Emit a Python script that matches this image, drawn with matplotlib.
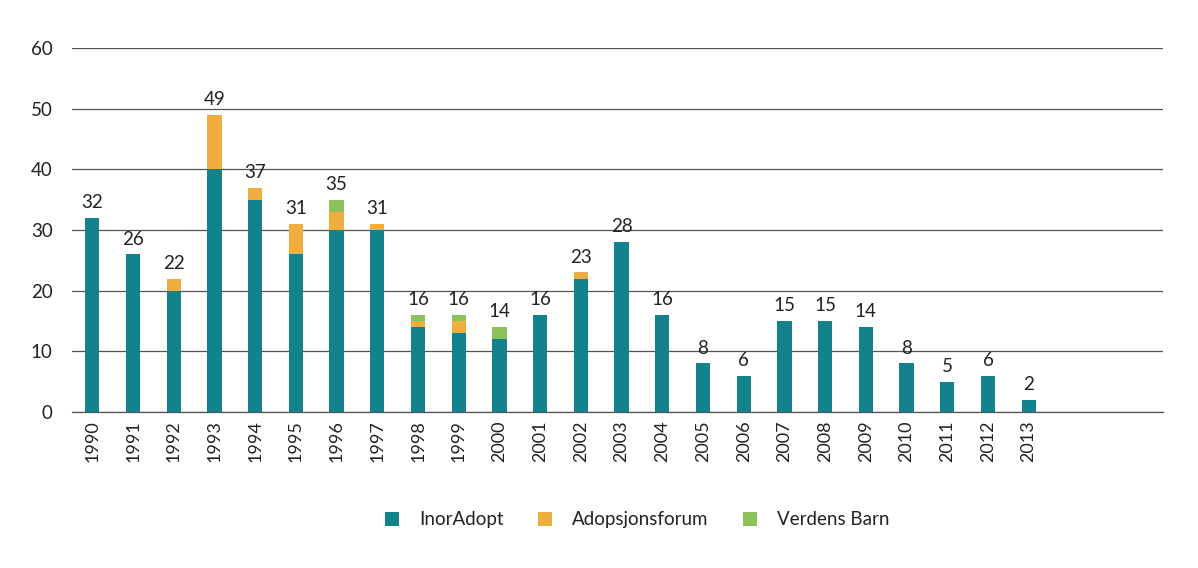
import numpy as np
import matplotlib.pyplot as plt

plt.rcParams['font.family'] = ['Lato', 'DejaVu Sans']

# Data
years = [str(y) for y in range(1990, 2014)]
inoradopt = [32, 26, 20, 40, 35, 26, 30, 30, 14, 13, 12, 16, 22, 28, 16, 8, 6, 15, 15, 14, 8, 5, 6, 2]
adopsjonsforum = [0, 0, 2, 9, 2, 5, 3, 1, 1, 2, 0, 0, 1, 0, 0, 0, 0, 0, 0, 0, 0, 0, 0, 0]
verdens_barn = [0, 0, 0, 0, 0, 0, 2, 0, 1, 1, 2, 0, 0, 0, 0, 0, 0, 0, 0, 0, 0, 0, 0, 0]

c_inor = '#13828d'
c_adop = '#f0ae40'
c_vb = '#8bc25a'

inor = np.array(inoradopt)
adop = np.array(adopsjonsforum)
vb = np.array(verdens_barn)
total = inor + adop + vb
x = np.arange(len(years))

fig = plt.figure(figsize=(11.98, 5.68), dpi=100)
ax = fig.add_axes([0.0601, 0.2746, 0.9107, 0.6409])

w = 0.35
ax.bar(x, inor, w, color=c_inor, label='InorAdopt', zorder=3)
ax.bar(x, adop, w, bottom=inor, color=c_adop, label='Adopsjonsforum', zorder=3)
ax.bar(x, vb, w, bottom=inor + adop, color=c_vb, label='Verdens Barn', zorder=3)

for xi, t in zip(x, total):
    ax.text(xi, t + 1.1, str(t), ha='center', va='bottom', fontsize=13.5, color='#222222')

ax.set_ylim(0, 60)
ax.set_xlim(-0.5, 26.3)
ax.set_yticks(range(0, 61, 10))
ax.yaxis.grid(True, color='#555555', linewidth=0.9, zorder=0)
ax.set_xticks(x)
ax.set_xticklabels(years, rotation=90, fontsize=13)
ax.tick_params(axis='y', labelsize=13.5, length=0, pad=14, labelcolor='#222222')
ax.tick_params(axis='x', length=0, pad=6, labelcolor='#222222')
for s in ['top', 'right', 'left']:
    ax.spines[s].set_visible(False)
ax.spines['bottom'].set_color('#555555')
ax.spines['bottom'].set_linewidth(0.9)

fig.legend(loc='center', bbox_to_anchor=(0.532, 0.085), ncol=3, frameon=False,
           fontsize=13.5, handlelength=0.75, handleheight=0.75, columnspacing=1.8,
           handletextpad=1.1, labelcolor='#222222')

fig.savefig('out.png', dpi=100)
